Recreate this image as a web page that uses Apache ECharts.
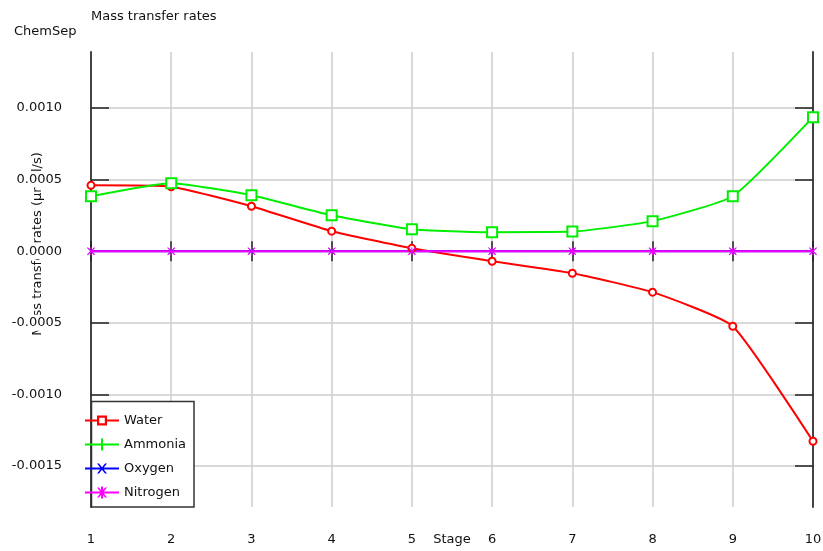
<!DOCTYPE html>
<html>
<head>
<meta charset="utf-8">
<script src="https://cdn.jsdelivr.net/npm/echarts@6/dist/echarts.min.js"></script>
<style>html,body{margin:0;padding:0;background:#fff}#c{width:823px;height:551px}</style>
</head>
<body>
<div id="c"></div>
<script>
var stages = ['1','2','3','4','5','6','7','8','9','10'];
var water = [0.00046, 0.00045, 0.000314, 0.00014, 0.00002, -0.00007, -0.000154, -0.000286, -0.000524, -0.001327];
var ammonia = [0.000384, 0.000475, 0.000391, 0.000251, 0.000154, 0.000133, 0.000137, 0.00021, 0.000384, 0.000936];
var oxygen = [0, 0, 0, 0, 0, 0, 0, 0, 0, 0];
var nitrogen = [0, 0, 0, 0, 0, 0, 0, 0, 0, 0];
var yTickMin = -0.0015, yTickMax = 0.0010, yTickStep = 0.0005;
var yMin = -0.001786, yMax = 0.001391;

var FONT = 'DejaVu Sans';
var chart = echarts.init(document.getElementById('c'), null, {renderer: 'canvas'});
var asterisk = 'path://M4.4,0H5.6V10H4.4Z M0,0.8L0.8,0L10,9.2L9.2,10Z M9.2,0L10,0.8L0.8,10L0,9.2Z';
var frame = {show: true, lineStyle: {color: '#444', width: 2}};
var option = {
  animation: false,
  backgroundColor: '#fff',
  title: [
    {text: 'Mass transfer rates', left: 91, top: 10, padding: 0, textStyle: {fontFamily: FONT, fontSize: 13, fontWeight: 'normal', color: '#111'}},
    {text: 'ChemSep', left: 14, top: 25, padding: 0, textStyle: {fontFamily: FONT, fontSize: 13, fontWeight: 'normal', color: '#111'}}
  ],
  grid: [
    {left: 91, right: 10, top: 52, bottom: 44, outerBoundsMode: 'none', containLabel: false},
    {left: 91, right: 10, top: 108, bottom: 85, outerBoundsMode: 'none', containLabel: false}
  ],
  legend: {
    left: 85, top: 414, orient: 'vertical', padding: 0, itemGap: 11,
    itemWidth: 34, itemHeight: 12, z: 5,
    itemStyle: {borderWidth: 0},
    textStyle: {fontFamily: FONT, fontSize: 13, color: '#111'},
    data: [
      {name: 'Water', icon: 'path://M0,5H12V7H0Z M22,5H34V7H22Z M12,1H22V11H12Z M14.2,3.2V8.8H19.8V3.2Z', itemStyle: {color: '#ff0000', borderWidth: 0}},
      {name: 'Ammonia', icon: 'path://M0,5H34V7H0Z M16,0H18V12H16Z', itemStyle: {color: '#00ee00', borderWidth: 0}},
      {name: 'Oxygen', icon: 'path://M0,5H34V7H0Z M12,1L14,1L22,11L20,11Z M20,1L22,1L14,11L12,11Z', itemStyle: {color: '#0000ff', borderWidth: 0}},
      {name: 'Nitrogen', icon: 'path://M0,5H34V7H0Z M12,1L14,1L22,11L20,11Z M20,1L22,1L14,11L12,11Z M16,0H18V12H16Z', itemStyle: {color: '#ff00ff', borderWidth: 0}}
    ]
  },
  xAxis: [
    {
      type: 'category', gridIndex: 0, data: stages, boundaryGap: false, position: 'bottom',
      name: 'Stage', nameLocation: 'middle', nameGap: 26, nameMoveOverlap: false,
      nameTextStyle: {fontFamily: FONT, fontSize: 13, color: '#111', verticalAlign: 'top'},
      axisLine: frame,
      axisTick: {show: true, inside: true, length: 10, lineStyle: {color: '#222', width: 1.5}},
      axisLabel: {fontFamily: FONT, fontSize: 13, color: '#111', margin: 26, verticalAlign: 'top'},
      splitLine: {show: true, interval: function (i) { return i > 0 && i < stages.length - 1; }, lineStyle: {color: '#cccccc', width: 1.5}}
    },
    {
      type: 'category', gridIndex: 0, data: stages, boundaryGap: false, position: 'top',
      axisLine: frame,
      axisTick: {show: true, inside: true, length: 10, lineStyle: {color: '#222', width: 1.5}},
      axisLabel: {show: false}, splitLine: {show: false}
    },
    {type: 'value', gridIndex: 1, show: false, min: 0, max: 1}
  ],
  yAxis: [
    {type: 'value', gridIndex: 0, min: yMin, max: yMax, position: 'left',
     axisLine: frame, axisTick: {show: false}, axisLabel: {show: false}, splitLine: {show: false}},
    {type: 'value', gridIndex: 0, min: yMin, max: yMax, position: 'right',
     axisLine: frame, axisTick: {show: false}, axisLabel: {show: false}, splitLine: {show: false}},
    {type: 'value', gridIndex: 1, min: yTickMin, max: yTickMax, interval: yTickStep, position: 'left',
     axisLine: {show: false},
     axisTick: {show: true, inside: true, length: 18, lineStyle: {color: '#222', width: 1.5}},
     axisLabel: {show: false},
     splitLine: {show: true, lineStyle: {color: '#cccccc', width: 1.5}}},
    {type: 'value', gridIndex: 1, min: yTickMin, max: yTickMax, interval: yTickStep, position: 'right',
     axisLine: {show: false},
     axisTick: {show: true, inside: true, length: 18, lineStyle: {color: '#222', width: 1.5}},
     axisLabel: {show: false}, splitLine: {show: false}},
    {type: 'value', gridIndex: 1, min: yTickMin, max: yTickMax, interval: yTickStep, position: 'left', z: 4,
     axisLine: {show: false}, axisTick: {show: false}, splitLine: {show: false},
     axisLabel: {fontFamily: FONT, fontSize: 13, color: '#111', margin: 29, backgroundColor: '#fff', padding: [2, 0, 1, 0],
       formatter: function (v) { return v.toFixed(4); }}}
  ],
  graphic: {
    elements: [
      {type: 'text', z: 1, x: 38, y: 244, rotation: Math.PI / 2,
       style: {text: 'Mass transfer rates (\u00b5mol/s)', font: '13px "DejaVu Sans"', fill: '#111', align: 'center', verticalAlign: 'middle'}},
      {type: 'rect', z: 3, shape: {x: 91.5, y: 401.5, width: 102.5, height: 105.5},
       style: {fill: '#fff', stroke: '#333', lineWidth: 1.5}}
    ]
  },
  series: [
    {name: 'Water', type: 'line', xAxisIndex: 0, yAxisIndex: 0, data: water, smooth: 0.15,
     symbol: 'emptyCircle', symbolSize: 7, lineStyle: {color: '#ff0000', width: 2},
     itemStyle: {color: '#ff0000', borderWidth: 1}},
    {name: 'Ammonia', type: 'line', xAxisIndex: 0, yAxisIndex: 0, data: ammonia, smooth: 0.15,
     symbol: 'emptyRect', symbolSize: 10, lineStyle: {color: '#00ee00', width: 2},
     itemStyle: {color: '#00ee00', borderWidth: 1.2}},
    {name: 'Oxygen', type: 'line', xAxisIndex: 0, yAxisIndex: 0, data: oxygen,
     symbol: 'path://M0,0.8L0.8,0L10,9.2L9.2,10Z M9.2,0L10,0.8L0.8,10L0,9.2Z', symbolSize: 7,
     lineStyle: {color: '#0000ff', width: 2}, itemStyle: {color: '#0000ff'}},
    {name: 'Nitrogen', type: 'line', xAxisIndex: 0, yAxisIndex: 0, data: nitrogen,
     symbol: asterisk, symbolSize: 8,
     lineStyle: {color: '#ff00ff', width: 2}, itemStyle: {color: '#ff00ff'}}
  ]
};
chart.setOption(option);
</script>
</body>
</html>
